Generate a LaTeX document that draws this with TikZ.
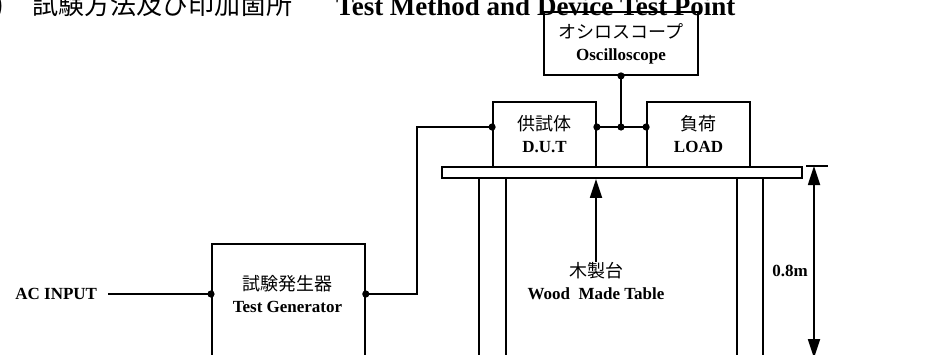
\documentclass[tikz,border=0pt]{standalone}
\usepackage{fontspec}
\setmainfont{Liberation Serif}
\newfontfamily\jpfont{Noto Sans CJK JP}
\newcommand\jp[1]{{\jpfont\mdseries\fontsize{18}{22}\selectfont #1}}
\usetikzlibrary{arrows.meta, positioning}

\begin{document}
\begin{tikzpicture}[x=1pt,y=-1pt,line width=1.8pt,
    box/.style={draw,minimum width=103pt,minimum height=65pt,inner sep=0pt,align=center,font=\fontsize{17}{22}\selectfont\bfseries},
    txt/.style={align=center,inner sep=0pt,font=\fontsize{17}{22}\selectfont\bfseries}]
      \useasboundingbox (0,0) rectangle (932,354);
      \clip (0,0) rectangle (932,354);
      \node[anchor=base east,font=\fontsize{26}{30}\selectfont\jpfont] (titlenum) at (9,14) {)};
      \node[anchor=base west,font=\fontsize{26}{30}\selectfont\jpfont] (titlejp) at (28,14) {試験方法及び印加箇所};
      \node[anchor=base west,font=\fontsize{27}{30}\selectfont\bfseries] (title) at (332,15) {Test Method and Device Test Point};
      \node[box,minimum width=154pt,minimum height=63pt] (osc) at (621,43.5) {\jp{オシロスコープ}\\Oscilloscope};
      \node[box] (dut) at (544.5,134.5) {\jp{供試体}\\D.U.T};
      \node[box] (load) at (698.5,134.5) {\jp{負荷}\\LOAD};
      \node[box,minimum width=153pt,minimum height=127pt,anchor=north west] (gen) at (211,243) {};
      \node[txt] (genlbl) at (287.5,294) {\jp{試験発生器}\\Test Generator};
      \node[txt,anchor=east] (acin) at (98,294) {AC INPUT};
      \coordinate (genin) at (gen.west |- genlbl);
      \coordinate (genout) at (gen.east |- genlbl);
      \coordinate (dutin) at ([yshift=7.5pt]dut.west);
      \coordinate (dutout) at ([yshift=7.5pt]dut.east);
      \coordinate (loadin) at ([yshift=7.5pt]load.west);
      \coordinate (jct) at (osc.south |- dutout);
      \draw ([xshift=10pt]acin.east) -- (genin);
      \draw (genout) -- ++(51,0) |- (dutin);
      \draw (dutout) -- (loadin);
      \draw (osc.south) -- (jct);
      \foreach \p in {genin,genout,dutin,dutout,jct,loadin,osc.south}
        \fill (\p) circle[radius=3.6pt];
      \node[draw,minimum width=360pt,minimum height=11pt,inner sep=0pt] (table) at (622,172.5) {};
      \foreach \x in {479,506,737,763}
        \draw (\x,178) -- (\x,360);
      \node[txt] (wood) at (596,281.5) {\jp{木製台}\\Wood\ \ Made Table};
      \draw[-{Triangle[length=19pt,width=12pt]}] (wood.north) -- (wood.north |- table.south);
      \coordinate (dimtop) at (814,166);
      \coordinate (dimbot) at (814,358);
      \draw (806,166) -- (828,166);
      \draw[{Triangle[length=19pt,width=12pt]}-{Triangle[length=19pt,width=12pt]}] (dimtop) -- (dimbot);
      \node[txt] (height) at (790,271) {0.8m};
    \end{tikzpicture}
\end{document}
